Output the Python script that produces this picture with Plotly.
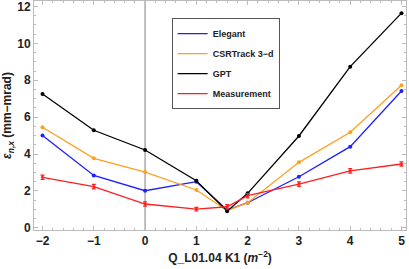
import plotly.graph_objects as go

k1 = [-2, -1, 0, 1, 1.6, 2, 3, 4, 5]
elegant = [5.0, 2.84, 2.01, 2.5, 0.96, 1.36, 2.77, 4.4, 7.42]
csrtrack = [5.45, 3.77, 3.02, 2.05, 0.94, 1.36, 3.55, 5.18, 7.73]
gpt = [7.26, 5.29, 4.22, 2.55, 0.9, 1.87, 4.98, 8.74, 11.64]
measurement = [2.74, 2.23, 1.29, 1.01, 1.14, 1.74, 2.37, 3.09, 3.46]
meas_err = [0.12, 0.12, 0.12, 0.1, 0.12, 0.12, 0.12, 0.12, 0.12]

x_ticks = [-2, -1, 0, 1, 2, 3, 4, 5]
y_ticks = [0, 2, 4, 6, 8, 10, 12]

names = ["Elegant", "CSRTrack 3\u2212d", "GPT", "Measurement"]
colors = ["#1f1fff", "#ff9f1f", "#000000", "#ff1f1f"]

fig = go.Figure()
for name, ys, col in zip(names[:3], [elegant, csrtrack, gpt], colors[:3]):
    fig.add_trace(go.Scatter(
        x=k1, y=ys, name=name, mode="lines+markers",
        line=dict(color=col, width=1.3),
        marker=dict(color=col, size=4),
        showlegend=False,
    ))
fig.add_trace(go.Scatter(
    x=k1, y=measurement, name=names[3], mode="lines+markers",
    line=dict(color=colors[3], width=1.3),
    marker=dict(color=colors[3], size=3),
    error_y=dict(type="data", array=meas_err, color=colors[3], thickness=1.2, width=2),
    showlegend=False,
))
# legend entries (line samples only)
for i, (name, col) in enumerate(zip(names, colors)):
    fig.add_trace(go.Scatter(
        x=[None], y=[None], name=name, mode="lines",
        line=dict(color=col, width=1.3), legendgroup=f"g{i}",
    ))

fig.add_shape(type="line", x0=0, x1=0, y0=0, y1=1, yref="paper", xref="x",
              line=dict(color="#aaaaaa", width=1.5), layer="below")

axis_common = dict(
    showline=True, linecolor="#bbbbbb", linewidth=1, mirror="ticks",
    ticks="inside", ticklen=4, tickcolor="#bbbbbb", showgrid=False, zeroline=False,
    ticklabeloverflow="allow",
    tickfont=dict(family="Liberation Sans, Arial", size=12, color="#222", weight="bold"),
)

fig.update_layout(
    width=409, height=269,
    margin=dict(l=34, r=3, t=1, b=39),
    paper_bgcolor="white", plot_bgcolor="white",
    showlegend=True,
    legend=dict(
        x=0.37, y=0.925, xanchor="left", yanchor="top",
        bgcolor="white", bordercolor="#555555", borderwidth=1,
        font=dict(family="Liberation Sans, Arial", size=9, color="#222", weight="bold"),
        tracegroupgap=1, itemwidth=30,
    ),
    xaxis=dict(
        range=[-2.166, 5.088], tickvals=x_ticks,
        ticktext=[str(t).replace("-", "\u2212") for t in x_ticks],
        minor=dict(dtick=0.2, ticks="inside", ticklen=2, tickcolor="#bbbbbb"),
        title=dict(text="Q_L01.04 K1 (<i>m</i><sup>\u22122</sup>)", standoff=6,
                   font=dict(family="Liberation Sans, Arial", size=12, color="#222", weight="bold")),
        **axis_common,
    ),
    yaxis=dict(
        range=[-0.12, 12.3], tickvals=y_ticks,
        minor=dict(dtick=0.5, ticks="inside", ticklen=2, tickcolor="#bbbbbb"),
        title=dict(text="<i>\u03b5</i><sub><i>n,x</i></sub> (mm\u2212mrad)", standoff=4,
                   font=dict(family="Liberation Sans, Arial", size=12, color="#222", weight="bold")),
        **axis_common,
    ),
)

fig.write_html("out.html", config={"displayModeBar": False},
               post_script="document.body.style.margin='0';")
